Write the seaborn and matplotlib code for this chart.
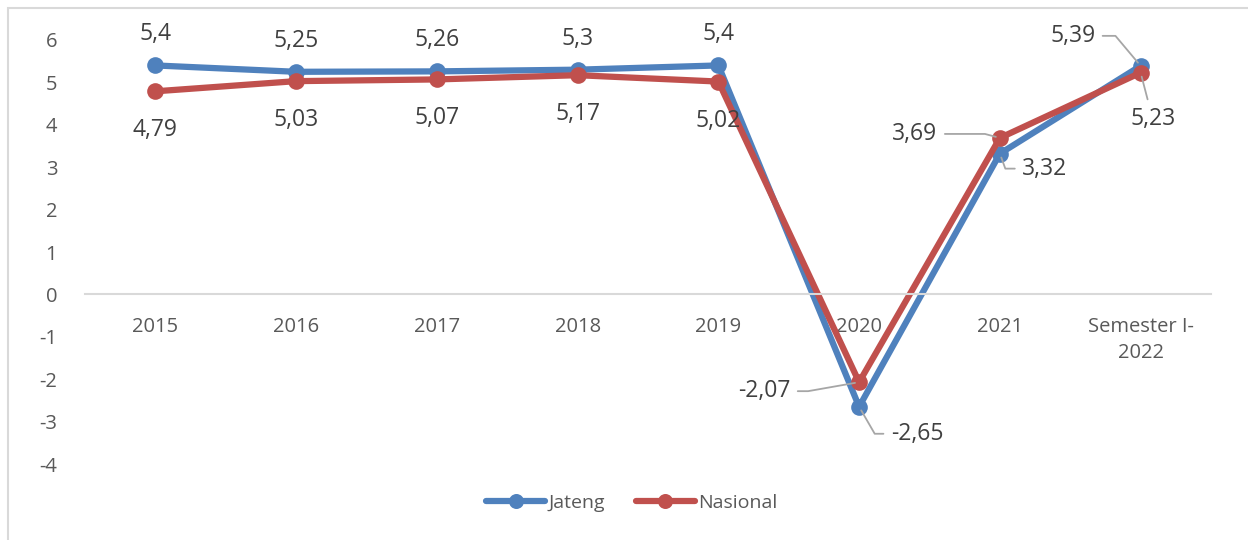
import matplotlib
matplotlib.use("Agg")
import matplotlib.pyplot as plt
import seaborn as sns
import pandas as pd
from matplotlib.patches import Rectangle

#%% Dados
kategori = ['2015', '2016', '2017', '2018', '2019', '2020', '2021', 'Semester I-\n2022']
jateng = [5.4, 5.25, 5.26, 5.3, 5.4, -2.65, 3.32, 5.39]
nasional = [4.79, 5.03, 5.07, 5.17, 5.02, -2.07, 3.69, 5.23]
yticks = [6, 5, 4, 3, 2, 1, 0, -1, -2, -3, -4]

df = pd.DataFrame({'x': list(range(len(kategori))) * 2,
                   'nilai': jateng + nasional,
                   'seri': ['Jateng'] * len(jateng) + ['Nasional'] * len(nasional)})

#%% Gráfico
sns.set_style("white")
plt.rcParams['font.family'] = ['Open Sans', 'DejaVu Sans']
teks = '#404040'
fs_rot = 16.5

fig = plt.figure(figsize=(12.48, 5.4), dpi=100)
ax = fig.add_axes([85 / 1248, 76 / 540, (1211 - 85) / 1248, 424 / 540])
fig.patches.append(Rectangle((8 / 1248, -0.05), 1.1, 1 - 8 / 540 + 0.05, transform=fig.transFigure,
                             fill=False, edgecolor='#d9d9d9', linewidth=1.5))

sns.lineplot(data=df, x='x', y='nilai', hue='seri', palette=['#4f81bd', '#c0504d'],
             marker='o', markersize=12, markeredgewidth=0, linewidth=4.5, ax=ax, legend=True)

# eixo x na linha do zero (antes dos rótulos, senão os ticks são recriados)
for s in ['top', 'right', 'left']:
    ax.spines[s].set_visible(False)
ax.spines['bottom'].set_position(('data', 0))
ax.spines['bottom'].set_color('#d9d9d9')
ax.spines['bottom'].set_linewidth(1.5)

ax.set_xlim(-0.5, len(kategori) - 0.5)
ax.set_ylim(-4, 6)
ax.set_yticks(yticks)
ax.set_yticklabels([str(v) for v in yticks])
ax.set_xticks(range(len(kategori)))
ax.set_xticklabels(kategori, va='top', linespacing=1.4)
ax.tick_params(axis='both', length=0, labelsize=14.5, labelcolor='#595959')
ax.tick_params(axis='y', pad=20)
ax.tick_params(axis='x', pad=16)
ax.set_xlabel('')
ax.set_ylabel('')

# Rótulos simples
def fmt(v):
    return ('%g' % v).replace('.', ',')

for i in range(5):
    ax.annotate(fmt(jateng[i]), (i, jateng[i]), xytext=(0, 31), textcoords='offset pixels',
                ha='center', va='center', fontsize=fs_rot, color=teks)
    ax.annotate(fmt(nasional[i]), (i, nasional[i]), xytext=(0, -39), textcoords='offset pixels',
                ha='center', va='center', fontsize=fs_rot, color=teks)

# Rótulos com linha guia
guia = dict(arrowstyle='-', color='#a6a6a6', lw=1.3, shrinkA=3, shrinkB=3)
ax.annotate(fmt(nasional[5]), (5, nasional[5]), xytext=(-95, -9), textcoords='offset pixels',
            ha='center', va='center', fontsize=fs_rot, color=teks,
            arrowprops=dict(guia, connectionstyle='angle,angleA=0,angleB=10,rad=0'))
ax.annotate(fmt(jateng[5]), (5, jateng[5]), xytext=(58, -27), textcoords='offset pixels',
            ha='center', va='center', fontsize=fs_rot, color=teks,
            arrowprops=dict(guia, connectionstyle='angle,angleA=180,angleB=-60,rad=0'))
ax.annotate(fmt(nasional[6]), (6, nasional[6]), xytext=(-85, 4), textcoords='offset pixels',
            ha='center', va='center', fontsize=fs_rot, color=teks,
            arrowprops=dict(guia, connectionstyle='angle,angleA=0,angleB=165,rad=0'))
ax.annotate(fmt(jateng[6]), (6, jateng[6]), xytext=(45, -15), textcoords='offset pixels',
            ha='center', va='center', fontsize=fs_rot, color=teks,
            arrowprops=dict(guia, connectionstyle='angle,angleA=180,angleB=-70,rad=0'))
ax.annotate(fmt(jateng[7]), (7, jateng[7]), xytext=(-68, 30), textcoords='offset pixels',
            ha='center', va='center', fontsize=fs_rot, color=teks,
            arrowprops=dict(guia, connectionstyle='angle,angleA=0,angleB=130,rad=0'))
ax.annotate(fmt(nasional[7]), (7, nasional[7]), xytext=(12, -46), textcoords='offset pixels',
            ha='center', va='center', fontsize=fs_rot, color=teks,
            arrowprops=dict(guia, connectionstyle='arc3'))

# Legenda
leg = ax.legend(loc='center', bbox_to_anchor=(632 / 1248, 37 / 540), bbox_transform=fig.transFigure,
                ncol=2, frameon=False, fontsize=14, handlelength=3.0, columnspacing=1.6,
                handletextpad=0.2, markerscale=0.9)
for t in leg.get_texts():
    t.set_color('#595959')

fig.savefig('out.png', dpi=100)
